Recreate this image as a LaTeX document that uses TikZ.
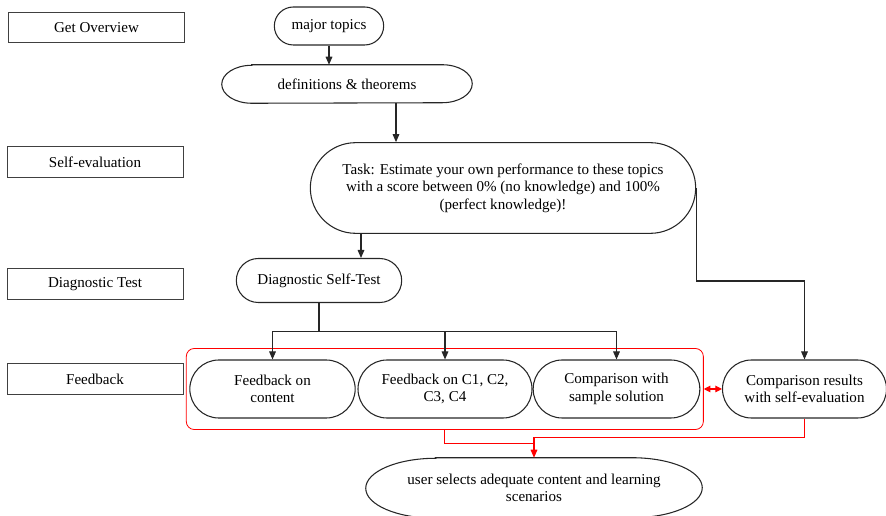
\documentclass[tikz,border=0pt]{standalone}
\usepackage{fontspec}
\setmainfont{Liberation Serif}
\usetikzlibrary{shapes.misc}
\usetikzlibrary{arrows.meta}
\usetikzlibrary{fit}
\usetikzlibrary{calc}

\tikzset{
  phase/.style={draw=black!75, line width=0.6pt, minimum width=132pt, minimum height=23pt, inner sep=0pt},
  pill/.style={draw=black!85, line width=0.8pt, rounded rectangle, inner sep=0pt, align=center},
  oval/.style={inner sep=0pt, align=center},
  arr/.style={draw=black!85, line width=0.8pt, -{Triangle[length=6pt,width=5pt]}},
  redline/.style={draw=red, line width=0.8pt},
  redarr/.style={redline, -{Triangle[length=6pt,width=5pt]}},
}
% outline with elliptic ends
\newcommand{\ovaloutline}[3]{%
  \draw[black!85, line width=0.8pt] ($(#1.north west)+(#2,0)$) -- ($(#1.north east)-(#2,0)$)
    arc[start angle=-90, end angle=90, x radius=#2, y radius=#3]
    -- ($(#1.south west)+(#2,0)$)
    arc[start angle=90, end angle=270, x radius=#2, y radius=#3] -- cycle;}

\begin{document}
\begin{tikzpicture}[x=0.75pt,y=0.75pt,yscale=-1,xscale=1, font=\fontsize{11.3}{13.2}\selectfont]
  \useasboundingbox (0,0) rectangle (886,516);

  % phases on the left
  \node[phase] (overview) at (96.5,27.5) {Get Overview};
  \node[phase] (selfeval) at (95,162) {Self-evaluation};
  \node[phase] (diagtest) at (95,284) {Diagnostic Test};
  \node[phase] (feedback) at (95,379) {Feedback};

  % flow
  \node[pill, minimum width=82pt, minimum height=28.5pt] (topics) at (329,26) {major topics};
  \node[oval, minimum width=187.5pt, minimum height=28.5pt] (defs) at (347,84) {definitions \& theorems};
  \ovaloutline{defs}{30}{19}
  \node[pill, minimum width=289pt, minimum height=68pt] (task) at (503,188)
    {Task: Estimate your own performance to these topics\\with a score between 0\% (no knowledge) and 100\%\\(perfect knowledge)!};
  \node[pill, minimum width=124pt, minimum height=33pt] (selftest) at (319,280.5) {Diagnostic Self-Test};
  \node[pill, minimum width=124pt, minimum height=43.5pt] (fbcontent) at (272.5,389) {Feedback on\\content};
  \node[pill, minimum width=130.5pt, minimum height=43.5pt] (fbcomp) at (445,389) {Feedback on C1, C2,\\C3, C4};
  \node[pill, minimum width=125pt, minimum height=43.5pt] (fbsample) at (616.5,389) {Comparison with\\sample solution};
  \node[pill, minimum width=123pt, minimum height=43.5pt] (results) at (804.5,389) {Comparison results\\with self-evaluation};
  \node[oval, minimum width=252pt, minimum height=45pt] (select) at (534,488)
    {user selects adequate content and learning\\scenarios};
  \ovaloutline{select}{70}{30}

  \node[fit=(fbcontent)(fbsample), draw=red, line width=0.6pt, rounded corners=6pt,
        inner xsep=2.25pt, inner ysep=8.25pt] (fbgroup) {};

  % connectors
  \draw[arr] (topics.south) -- (topics.south |- defs.north);
  \coordinate (defsout) at ($(defs.south)+(49,0)$);
  \draw[arr] (defsout) -- (defsout |- task.north);
  \coordinate (testin) at ($(selftest.north)+(42,0)$);
  \draw[arr] (testin |- task.south) -- (testin);
  \draw[black!85, line width=0.8pt] (selftest.south) -- ++(0,28.5) coordinate (split);
  \draw[arr] (split) -| (fbcontent);
  \draw[arr] (split) -| (fbcomp);
  \draw[arr] (split) -| (fbsample);
  \draw[arr] (task.east) -- ++(0,93) -| (results);

  \draw[redline, {Triangle[length=5pt,width=5pt]}-{Triangle[length=5pt,width=5pt]}] (fbgroup.east) -- (results.west);
  \draw[redline] (fbgroup.south) |- ($(select.north)+(0,-14)$);
  \draw[redarr] (results.south) |- ($(select.north)+(0,-20)$) -- (select.north);
\end{tikzpicture}
\end{document}
